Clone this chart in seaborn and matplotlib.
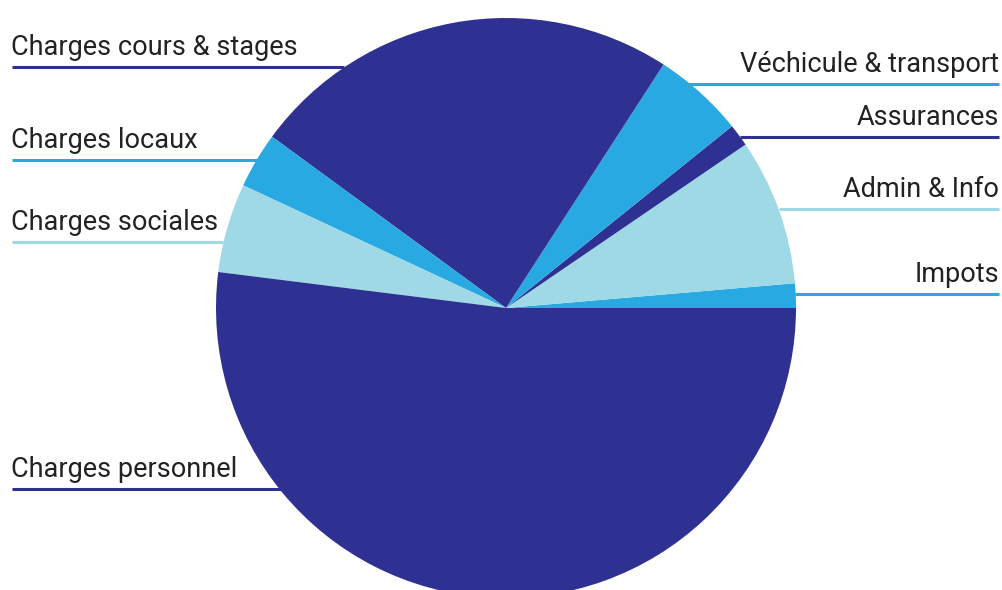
import matplotlib
matplotlib.use("Agg")
import matplotlib.pyplot as plt
import seaborn as sns

sns.set_theme(style="white")
plt.rcParams['font.family'] = ['Roboto', 'DejaVu Sans']

# Data (percent shares, counter-clockwise from 3 o'clock)
categories = ["Impots", "Admin & Info", "Assurances", "Véchicule & transport",
              "Charges cours & stages", "Charges locaux", "Charges sociales",
              "Charges personnel"]
values = [1.36, 8.17, 1.25, 5.08, 24.08, 3.11, 4.97, 51.98]

NAVY = "#2e3192"
BLUE = "#29a9e1"
LIGHT = "#a0d9e6"
slice_colors = [BLUE, LIGHT, NAVY, BLUE, NAVY, BLUE, LIGHT, NAVY]

W, H = 1003, 590
fig = plt.figure(figsize=(W / 100, H / 100), dpi=100)
ax = fig.add_axes([0, 0, 1, 1])

cx, cy, r = 506, H - 308, 290
ax.pie(values, colors=slice_colors, startangle=0, counterclock=True,
       center=(cx, cy), radius=r, frame=True,
       wedgeprops=dict(linewidth=0, antialiased=True))
ax.set_xlim(0, W)
ax.set_ylim(0, H)
ax.set_aspect("auto")
ax.axis("off")

# label layout: (side, line y (px from top), line inner x)
layout = {
    "Charges cours & stages": ("left", 67, 344),
    "Charges locaux": ("left", 160, 257),
    "Charges sociales": ("left", 242, 223),
    "Charges personnel": ("left", 489, 281),
    "Véchicule & transport": ("right", 84, 688),
    "Assurances": ("right", 137, 740),
    "Admin & Info": ("right", 209, 779),
    "Impots": ("right", 294, 795),
}
color_of = dict(zip(categories, slice_colors))
for name, (side, ly, xin) in layout.items():
    c = color_of[name]
    if side == "left":
        ax.plot([12, xin], [H - ly, H - ly], color=c, lw=2.2, solid_capstyle="butt", zorder=0)
        ax.text(11, H - ly + 12, name, ha="left", va="baseline", fontsize=19.5, color="#222222")
    else:
        ax.plot([xin, 999], [H - ly, H - ly], color=c, lw=2.2, solid_capstyle="butt", zorder=0)
        ax.text(999, H - ly + 12, name, ha="right", va="baseline", fontsize=19.5, color="#222222")

fig.savefig("out.png", dpi=100, facecolor="white")
